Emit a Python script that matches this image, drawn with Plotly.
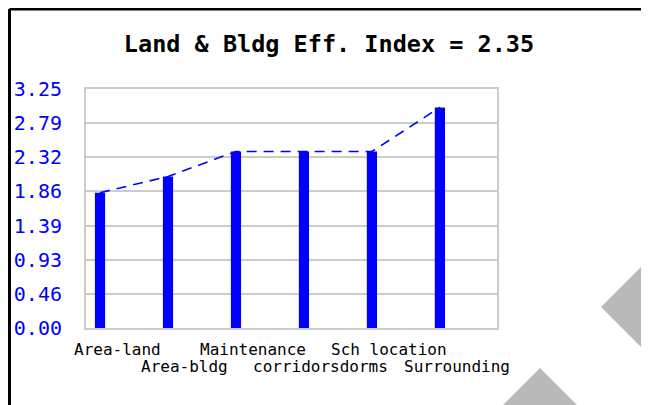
import plotly.graph_objects as go

# Data
categories = ["Area-land", "Area-bldg", "Maintenance", "corridorsdorms", "Sch location", "Surrounding"]
scores = [1.84, 2.06, 2.40, 2.40, 2.40, 3.00]
y_tick_vals = [0, 0.4643, 0.9286, 1.3929, 1.8571, 2.3214, 2.7857, 3.25]
y_tick_text = ["0.00", "0.46", "0.93", "1.39", "1.86", "2.32", "2.79", "3.25"]
index_value = 2.35

# page is rendered with an 8px body margin, so work in page pixels and shift
OFF = 8
PW, PH = 649, 405
W, H = PW - OFF, PH - OFF
L, R, T, B = 86, 497, 89, 328  # plot area in page pixels

BLUE = "#0000ff"
MONO = "DejaVu Sans Mono, monospace"


def px(x, y):
    # page pixel -> paper coordinates
    return (x - L) / (R - L), (B - y) / (B - T)


def diamond(cx, cy, r):
    pts = [px(cx - r, cy), px(cx, cy - r), px(cx + r, cy), px(cx, cy + r)]
    return "M " + " L ".join(f"{a:.4f},{b:.4f}" for a, b in pts) + " Z"


xs = list(range(len(categories)))

fig = go.Figure()
fig.add_trace(go.Bar(
    x=xs, y=scores, width=0.15,
    marker=dict(color=BLUE, line=dict(width=0)),
    hoverinfo="skip",
))
fig.add_trace(go.Scatter(
    x=xs, y=scores, mode="lines",
    line=dict(color=BLUE, width=1.6, dash="10px,7px"),
    hoverinfo="skip",
))

# alternating two-row category labels
for i, name in enumerate(categories):
    fig.add_annotation(
        x=i + 0.25, y=0, xref="x", yref="paper",
        text=name, showarrow=False, yanchor="top",
        yshift=-10 if i % 2 == 0 else -27,
        font=dict(family=MONO, size=16, color="#000000"),
    )

# page frame and background decorations
fx, fy = px(OFF + 1.5, 9)
x1, _ = px(PW - 1, 9)
_, yb = px(OFF, PH)
shapes = [
    dict(type="line", xref="paper", yref="paper", x0=fx, y0=fy, x1=x1, y1=fy,
         line=dict(color="#000000", width=3)),
    dict(type="line", xref="paper", yref="paper", x0=fx, y0=fy, x1=fx, y1=yb,
         line=dict(color="#000000", width=3)),
    dict(type="path", xref="paper", yref="paper", path=diamond(650, 307, 49),
         fillcolor="#b9b9b9", line=dict(width=0), layer="below"),
    dict(type="path", xref="paper", yref="paper", path=diamond(540, 405, 37),
         fillcolor="#b9b9b9", line=dict(width=0), layer="below"),
]

fig.update_layout(
    width=W, height=H,
    margin=dict(l=L - OFF, r=PW - R, t=T - OFF, b=PH - B, pad=0, autoexpand=False),
    paper_bgcolor="#ffffff", plot_bgcolor="#ffffff",
    showlegend=False,
    title=dict(
        text=f"<b>Land & Bldg Eff. Index = {index_value:.2f}</b>",
        x=(329 - OFF) / W, xref="container", xanchor="center",
        y=1 - (44 - OFF) / H, yref="container", yanchor="middle",
        font=dict(family=MONO, size=23.5, color="#000000"),
    ),
    xaxis=dict(
        range=[-0.206, 5.84], showgrid=False, zeroline=False,
        showticklabels=False, ticks="", automargin=False,
        showline=True, mirror=True, linecolor="#cccccc", linewidth=2,
    ),
    yaxis=dict(
        range=[0, 3.25], tickvals=y_tick_vals, ticktext=y_tick_text,
        showgrid=True, gridcolor="#cccccc", gridwidth=2, zeroline=False,
        showline=True, mirror=True, linecolor="#cccccc", linewidth=2,
        ticks="", ticklabelstandoff=18, automargin=False,
        tickfont=dict(family=MONO, size=20, color=BLUE),
    ),
    shapes=shapes,
)

fig.write_html("out.html", config={"displayModeBar": False})
